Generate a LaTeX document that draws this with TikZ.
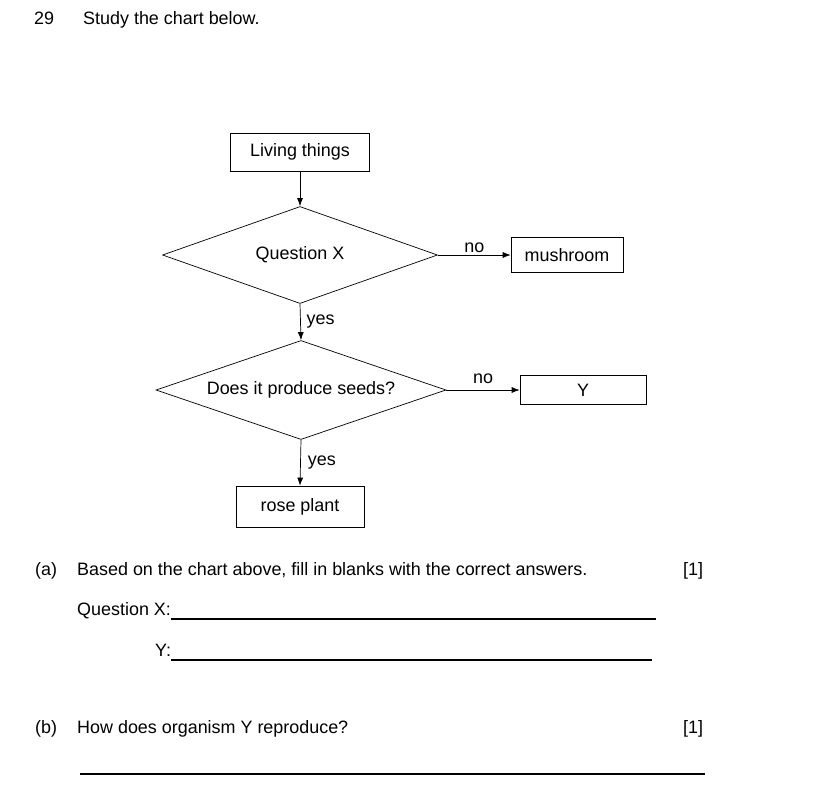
\documentclass[tikz,border=0pt]{standalone}
\usepackage{fontspec}
\setmainfont{Liberation Sans}
\usepackage{tikz}
\usetikzlibrary{shapes.geometric}
\usetikzlibrary{arrows.meta}

\tikzset{
    box/.style={draw, line width=0.6pt, inner sep=0pt},
    decision/.style={draw, diamond, line width=0.6pt, inner sep=0pt, shape aspect=3},
    arr/.style={line width=0.6pt, -{Latex[length=2.4mm,width=1.8mm]}},
    txt/.style={anchor=base west, inner sep=0pt},
    blank/.style={line width=0.9pt}
}

\begin{document}
\begin{tikzpicture}[x=0.03cm, y=-0.03cm, font=\fontsize{15.3}{18}\selectfont]
    \useasboundingbox (0,0) rectangle (815,808);

    % 题目
    \node[txt] (num) at (34,24) {29};
    \node[txt] (title) at (83,24) {Study the chart below.};

    % 流程图
    \node[box, minimum width=4.17cm, minimum height=1.14cm] (living) at (300,152) {Living things};
    \node[decision, minimum width=8.25cm, minimum height=2.91cm] (qx) at (300,255) {Question X};
    \node[box, minimum width=3.36cm, minimum height=1.05cm] (mush) at (567,255) {mushroom};
    \node[decision, minimum width=8.7cm, minimum height=2.97cm] (seeds) at (301,390) {Does it produce seeds?};
    \node[box, minimum width=3.78cm, minimum height=0.87cm] (ybox) at (583,390) {Y};
    \node[box, minimum width=3.84cm, minimum height=1.23cm] (rose) at (300,506.5) {rose plant};

    \draw[arr] (living.south) -- (qx.north);
    \draw[arr] (qx.east) -- (mush.west) node[midway, above, inner sep=2pt] {no};
    \draw[arr] (qx.south) -- (seeds.north) node[midway, right, inner sep=5pt] {yes};
    \draw[arr] (seeds.east) -- (ybox.west) node[midway, above, inner sep=5pt] {no};
    \draw[arr] (seeds.south) -- (rose.north) node[midway, right, inner sep=6pt] {yes};

    % (a)
    \node[txt] (pa) at (35,575) {(a)};
    \node[txt] (qa) at (77,575) {Based on the chart above, fill in blanks with the correct answers.};
    \node[txt] (ma) at (683,575) {[1]};
    \node[txt] (lx) at (77,615) {Question X:};
    \draw[blank] (lx.base east) ++(0,4) coordinate (lxa) -- (656,619);
    \node[txt] (ly) at (155,656) {Y:};
    \draw[blank] (ly.base east) ++(0,4) coordinate (lya) -- (652,660);

    % (b)
    \node[txt] (pb) at (35,733) {(b)};
    \node[txt] (qb) at (77,733) {How does organism Y reproduce?};
    \node[txt] (mb) at (683,733) {[1]};
    \draw[blank] (80,774) -- (705,774);

\end{tikzpicture}
\end{document}
